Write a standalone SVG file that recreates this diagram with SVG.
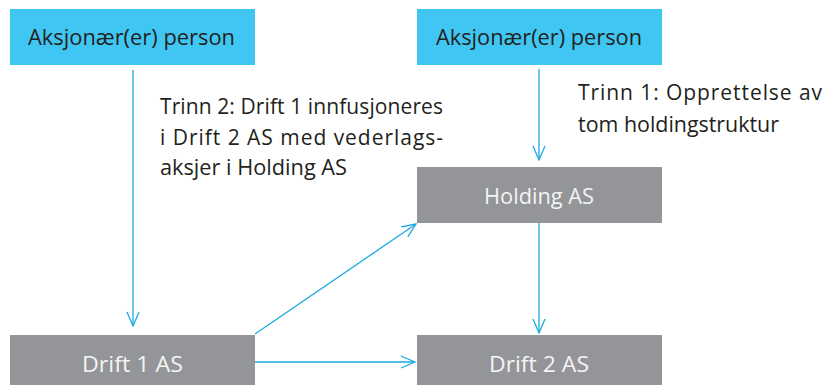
<svg xmlns="http://www.w3.org/2000/svg" width="824" height="385" viewBox="0 0 824 385">
<style>
.blue{fill:#40c6f3}
.gray{fill:#939598}
.t{font-family:"Open Sans",Lato,"Liberation Sans",sans-serif;font-size:21px}
.dark{fill:#231f20}
.light{fill:#f4f4f4;text-anchor:middle}
.c{stroke:#1ba9e1;stroke-width:1.3;fill:none}
</style>
<defs>
<marker id="ah" viewBox="0 0 16 14" refX="15" refY="7" markerWidth="16" markerHeight="14" markerUnits="userSpaceOnUse" orient="auto">
<path d="M1,1 L15,7 L1,13" stroke="#1ba9e1" stroke-width="1.3" fill="none"/>
</marker>
</defs>
<rect width="824" height="385" fill="#fff"/>
<g id="n-aksj1">
<rect class="blue" x="10" y="9" width="245" height="56"/>
<text class="t dark" x="131.5" y="44.5" text-anchor="middle" textLength="207" lengthAdjust="spacingAndGlyphs">Aksjonær(er) person</text>
</g>
<g id="n-aksj2">
<rect class="blue" x="417" y="9" width="245" height="56"/>
<text class="t dark" x="539" y="44.5" text-anchor="middle" textLength="206" lengthAdjust="spacingAndGlyphs">Aksjonær(er) person</text>
</g>
<g id="n-holding">
<rect class="gray" x="417" y="167" width="245" height="56"/>
<text class="t light" x="539" y="204" textLength="110" lengthAdjust="spacingAndGlyphs">Holding AS</text>
</g>
<g id="n-drift1">
<rect class="gray" x="10" y="335" width="245" height="50"/>
<text class="t light" x="132.5" y="372" textLength="101" lengthAdjust="spacingAndGlyphs">Drift 1 AS</text>
</g>
<g id="n-drift2">
<rect class="gray" x="417" y="335" width="245" height="50"/>
<text class="t light" x="539" y="372" textLength="100" lengthAdjust="spacingAndGlyphs">Drift 2 AS</text>
</g>
<g id="connectors">
<line class="c" x1="133" y1="70" x2="133" y2="326" marker-end="url(#ah)"/>
<line class="c" x1="539" y1="69" x2="539" y2="160" marker-end="url(#ah)"/>
<line class="c" x1="539" y1="223" x2="539" y2="333" marker-end="url(#ah)"/>
<line class="c" x1="255" y1="362" x2="415" y2="362" marker-end="url(#ah)"/>
<line class="c" x1="255" y1="334" x2="416" y2="224" marker-end="url(#ah)"/>
</g>
<g id="labels">
<text class="t dark" x="160" y="114" textLength="283" lengthAdjust="spacing">Trinn 2: Drift 1 innfusjoneres</text>
<text class="t dark" x="160" y="145" textLength="283" lengthAdjust="spacing">i Drift 2 AS med vederlags-</text>
<text class="t dark" x="160" y="175" textLength="187" lengthAdjust="spacingAndGlyphs">aksjer i Holding AS</text>
<text class="t dark" x="578" y="100" textLength="244" lengthAdjust="spacing">Trinn 1: Opprettelse av</text>
<text class="t dark" x="578" y="132" textLength="201" lengthAdjust="spacingAndGlyphs">tom holdingstruktur</text>
</g>
</svg>
